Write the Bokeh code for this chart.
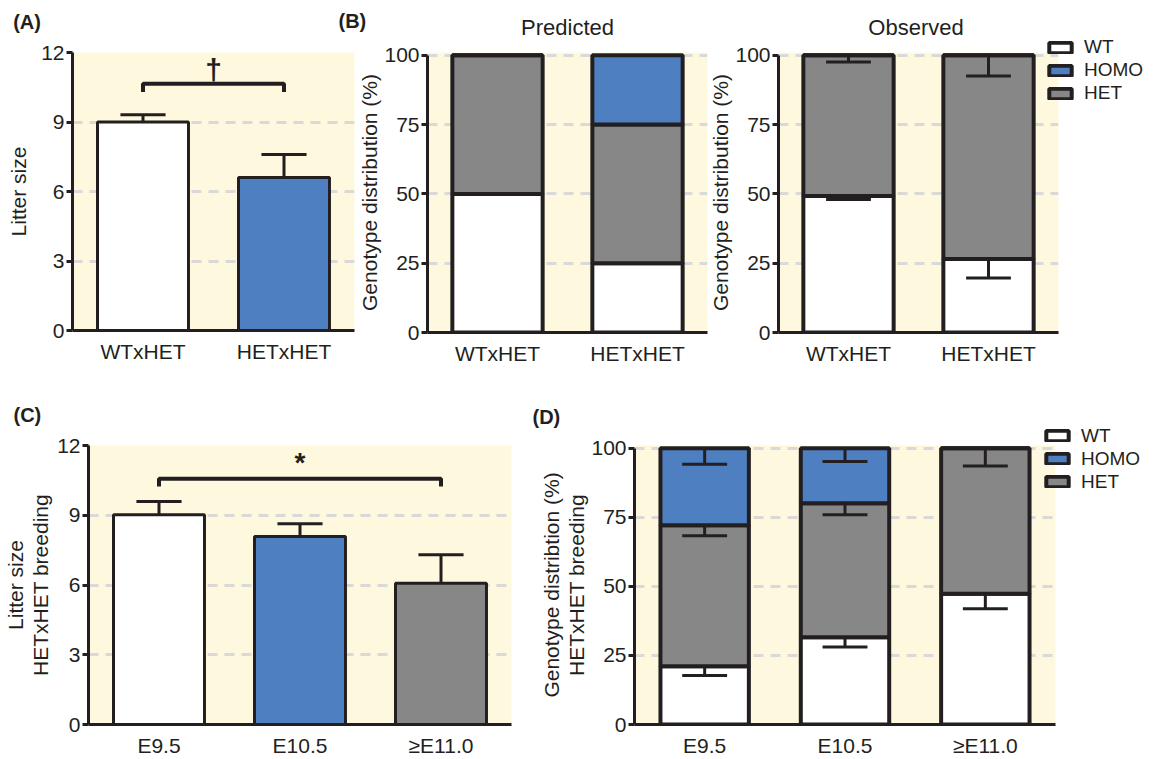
import numpy as np
from bokeh.plotting import figure
from bokeh.models import FactorRange, Range1d, FixedTicker, Label, Legend, LegendItem
from bokeh.layouts import column, row
from bokeh.core.properties import value
from bokeh.embed import file_html
from bokeh.resources import INLINE

FONT = "Liberation Sans"
INK = "#231f20"
YELLOW = "#fef8df"
WHITE = "#ffffff"
BLUE = "#4e7fc0"
GRAY = "#878787"
GRID = "#d9d9d9"

# ---------------- data ----------------
a_crosses = ["WTxHET", "HETxHET"]
a_litter = [9.0, 6.6]
a_litter_err = [0.31, 1.0]
a_colors = [WHITE, BLUE]
a_sig_text = "\u2020"
a_sig_bracket = [10.29, 10.65]   # leg bottom, bracket top
a_sig_label_y = 11.25

b_crosses = ["WTxHET", "HETxHET"]
pred_wt = [50, 25]
pred_het = [50, 50]
pred_homo = [0, 25]
obs_wt = [49.2, 26.5]
obs_het = [50.8, 73.5]
obs_homo = [0, 0]
obs_wt_err = [1.2, 6.8]
obs_het_err = [2.4, 7.5]
obs_homo_err = [0, 0]

c_stages = ["E9.5", "E10.5", "\u2265E11.0"]
c_litter = [9.02, 8.09, 6.08]
c_litter_err = [0.57, 0.54, 1.22]
c_colors = [WHITE, BLUE, GRAY]
c_sig_text = "*"
c_sig_bracket = [10.24, 10.57]
c_sig_label_y = 11.27

d_stages = ["E9.5", "E10.5", "\u2265E11.0"]
d_wt = [21.1, 31.6, 47.3]
d_het = [51.0, 48.5, 52.7]
d_homo = [27.9, 19.9, 0]
d_wt_err = [3.4, 3.5, 5.4]
d_het_err = [3.8, 4.2, 6.4]
d_homo_err = [5.8, 4.8, 0]

litter_ticks = [0, 3, 6, 9, 12]
pct_ticks = [0, 25, 50, 75, 100]

BAR_W = 0.645
CAP_W = 0.32
TXT = "21px"


def make_fig(factors, y_end, yticks, grid_ticks, ylabel, fw, fh, bl, br, bt, bb,
             y_bounds, label_standoff):
    p = figure(x_range=FactorRange(factors=factors), y_range=Range1d(0, y_end),
               frame_width=fw, frame_height=fh,
               min_border_left=bl, min_border_right=br,
               min_border_top=bt, min_border_bottom=bb,
               output_backend="svg", toolbar_location=None, title=None,
               background_fill_color=YELLOW, border_fill_color="white",
               border_fill_alpha=0, outline_line_color=None)
    p.xgrid.visible = False
    p.ygrid.ticker = FixedTicker(ticks=grid_ticks)
    p.ygrid.grid_line_color = GRID
    p.ygrid.grid_line_width = 3
    p.ygrid.grid_line_dash = "10 7"

    ya = p.yaxis[0]
    ya.ticker = FixedTicker(ticks=yticks)
    ya.bounds = y_bounds
    ya.axis_label = ylabel
    ya.axis_label_standoff = label_standoff
    ya.axis_label_text_font = FONT
    ya.axis_label_text_font_size = TXT
    ya.axis_label_text_font_style = "normal"
    ya.axis_label_text_color = INK
    ya.axis_label_text_line_height = 1.1
    ya.major_label_text_font = FONT
    ya.major_label_text_font_size = TXT
    ya.major_label_text_color = INK
    ya.major_label_standoff = 2
    ya.major_tick_out = 6
    ya.major_tick_in = 0
    ya.major_tick_line_width = 3
    ya.major_tick_line_color = INK
    ya.minor_tick_line_color = None
    ya.axis_line_width = 3
    ya.axis_line_color = INK

    xa = p.xaxis[0]
    xa.major_label_text_font = FONT
    xa.major_label_text_font_size = TXT
    xa.major_label_text_color = INK
    xa.major_label_standoff = 9
    xa.major_tick_line_color = None
    xa.major_tick_out = 0
    xa.major_tick_in = 0
    xa.minor_tick_line_color = None
    xa.axis_line_width = 3
    xa.axis_line_color = INK
    return p


def add_label(p, text, x, y, size, bold=False, align="left"):
    # canvas coordinates; placed in the "above" side panel so it is not clipped
    p.add_layout(Label(x=x, y=y, x_units="canvas", y_units="canvas", text=text,
                       text_font=FONT, text_font_size=size,
                       text_font_style="bold" if bold else "normal",
                       text_baseline="middle", text_align=align, text_color=INK),
                 "above")


def error_bars(p, xs, tops, errs, direction):
    xs = np.asarray(xs, float)
    tops = np.asarray(tops, float)
    errs = np.asarray(errs, float)
    m = errs > 0
    xs, tops, errs = xs[m], tops[m], errs[m]
    ends = tops + direction * errs
    p.segment(x0=xs, y0=tops, x1=xs, y1=ends, line_color=INK, line_width=3)
    p.segment(x0=xs - CAP_W / 2, y0=ends, x1=xs + CAP_W / 2, y1=ends,
              line_color=INK, line_width=3)


def simple_bars(p, n, vals, errs, colors):
    xs = np.arange(n) + 0.5
    p.vbar(x=xs, top=vals, bottom=0, width=BAR_W, fill_color=colors,
           line_color=INK, line_width=3)
    error_bars(p, xs, vals, errs, +1)
    return xs


def sig_bracket(p, x_from, x_to, legs, label, label_y, size):
    lo, hi = legs
    p.line(x=[x_from, x_from, x_to, x_to], y=[lo, hi, hi, lo], line_color=INK,
           line_width=4)
    p.text(x=[(x_from + x_to) / 2], y=[label_y], text=[label], text_font=value(FONT),
           text_font_size=size, text_font_style="bold", text_align="center",
           text_baseline="middle", text_color=INK)


def stacked(p, n, wt, het, homo, width, wt_err=None, het_err=None, homo_err=None):
    xs = np.arange(n) + 0.5
    wt = np.asarray(wt, float)
    het = np.asarray(het, float)
    homo = np.asarray(homo, float)
    wt_top = wt
    het_top = wt + het
    homo_top = het_top + homo
    r_wt = p.vbar(x=xs, bottom=0, top=wt_top, width=width, fill_color=WHITE,
                  line_color=INK, line_width=4)
    r_het = p.vbar(x=xs, bottom=wt_top, top=het_top, width=width, fill_color=GRAY,
                   line_color=INK, line_width=4)
    r_homo = p.vbar(x=xs, bottom=het_top, top=homo_top, width=width, fill_color=BLUE,
                    line_color=INK, line_width=4)
    if wt_err is not None:
        error_bars(p, xs, wt_top, wt_err, -1)
        error_bars(p, xs, het_top, het_err, -1)
        error_bars(p, xs, homo_top, homo_err, -1)
    return r_wt, r_homo, r_het


def add_legend(p, renderers, loc):
    items = [LegendItem(label=lab, renderers=[r]) for lab, r in zip(["WT", "HOMO", "HET"], renderers)]
    leg = Legend(items=items, location=loc, glyph_width=28, glyph_height=13,
                 label_standoff=10, label_height=22, spacing=1, padding=0, margin=0,
                 border_line_color=None, background_fill_alpha=0,
                 label_text_font=FONT, label_text_font_size="19px",
                 label_text_color=INK)
    p.add_layout(leg, "right")


# ---------------- panel A ----------------
pA = make_fig(a_crosses, 12, litter_ticks, [3, 6, 9], "Litter size",
              282, 278, 72, 6, 52, 40, (0, 12), 8)
xa = simple_bars(pA, len(a_crosses), a_litter, a_litter_err, a_colors)
sig_bracket(pA, xa[0], xa[1], a_sig_bracket, a_sig_text, a_sig_label_y, "30px")
add_label(pA, "(A)", 12.7, 21, "20px", bold=True)

# ---------------- panel B: predicted ----------------
pB1 = make_fig(b_crosses, 101, pct_ticks, [25, 50, 75, 100], "Genotype distribution (%)",
               280, 280, 96, 1, 51, 39, (0, 100), 0)
pB1.margin = (0, 0, 0, -29)
stacked(pB1, len(b_crosses), pred_wt, pred_het, pred_homo, BAR_W)
add_label(pB1, "(B)", 7, 20.5, "20px", bold=True)
add_label(pB1, "Predicted", 236, 27, "22px", align="center")

# ---------------- panel B: observed ----------------
pB2 = make_fig(b_crosses, 101, pct_ticks, [25, 50, 75, 100], "Genotype distribution (%)",
               280, 280, 69, 96, 51, 39, (0, 100), 0)
pB2.margin = (0, 0, 0, -2)
rB = stacked(pB2, len(b_crosses), obs_wt, obs_het, obs_homo, BAR_W,
             obs_wt_err, obs_het_err, obs_homo_err)
add_label(pB2, "Observed", 209.5, 27, "22px", align="center")
add_legend(pB2, rB, (-12, 227.8))

# ---------------- panel C ----------------
pC = make_fig(c_stages, 12, litter_ticks, [3, 6, 9], "Litter size\nHETxHET breeding",
              423, 279, 88, 35, 75, 33, (0, 12), 2)
xc = simple_bars(pC, len(c_stages), c_litter, c_litter_err, c_colors)
sig_bracket(pC, xc[0], xc[-1], c_sig_bracket, c_sig_text, c_sig_label_y, "28px")
add_label(pC, "(C)", 13, 44, "20px", bold=True)

# ---------------- panel D ----------------
pD = make_fig(d_stages, 101, pct_ticks, [25, 50, 75, 100],
              "Genotype distribtion (%)\nHETxHET breeding",
              421, 279, 104, 96, 71, 37, (0, 100), 0)
pD.margin = (0, 0, 0, -16)
rD = stacked(pD, len(d_stages), d_wt, d_het, d_homo, 0.63,
             d_wt_err, d_het_err, d_homo_err)
add_label(pD, "(D)", 2, 46, "20px", bold=True)
add_legend(pD, rD, (-12, 231.5))

layout = column(row(pA, pB1, pB2, spacing=0), row(pC, pD, spacing=0), spacing=0)

open("out.html", "w").write(file_html(layout, INLINE))
